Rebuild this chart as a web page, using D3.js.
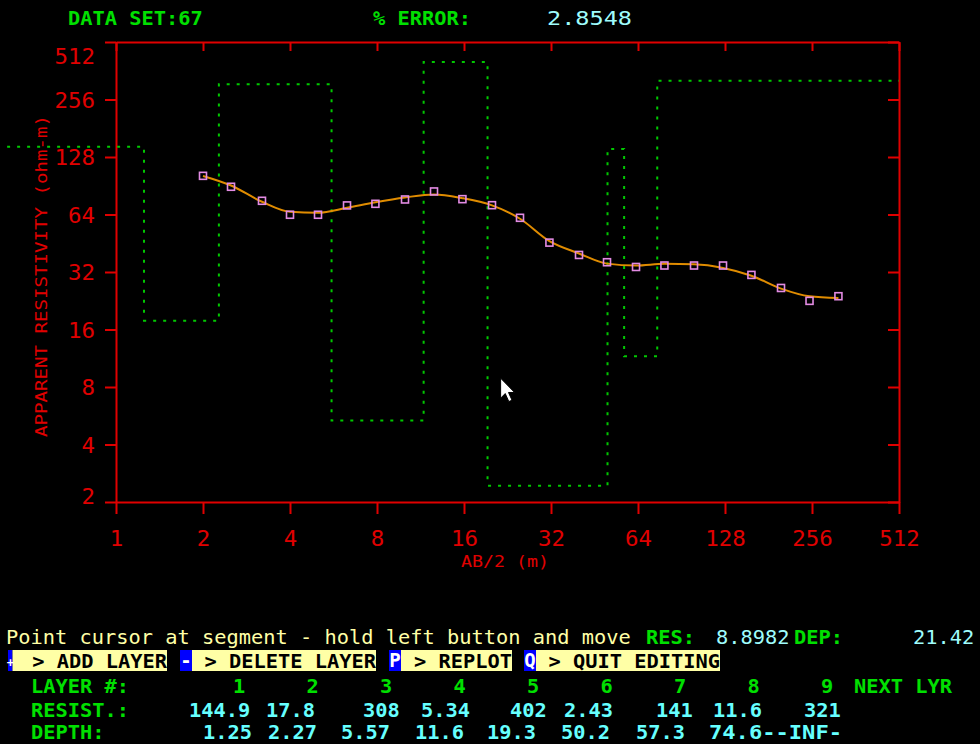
<!DOCTYPE html>
<html><head><meta charset="utf-8">
<script src="https://cdn.jsdelivr.net/npm/d3@7"></script>
<style>html,body{margin:0;padding:0;background:#000;overflow:hidden}svg{display:block}</style>
</head><body>
<svg id="c" width="980" height="744"></svg>
<script>
// ---- Sounding: electrode half-spacing (m) and apparent resistivity (ohm-m)
const abHalf = [2, 2.5, 3.2, 4, 5, 6.3, 7.9, 10, 12.6, 15.8, 20, 25, 31.6, 40, 50, 63, 79, 100, 126, 158, 200, 251, 316];
const observedRho = [102, 89.4, 75.5, 63.8, 63.8, 71.4, 72.8, 76.7, 84.5, 77.0, 71.6, 61.5, 45.6, 39.3, 36.0, 34.0, 34.6, 34.6, 34.6, 30.9, 26.4, 22.6, 23.9];
const calculatedRho = [101.9, 90.8, 74.6, 66.1, 65.3, 69.4, 74.2, 78.6, 81.5, 77.9, 71.4, 60.8, 46.4, 40.0, 35.4, 34.6, 35.3, 35.1, 33.6, 30.6, 26.2, 23.9, 23.4];

// ---- Layered model
const layerNumbers = [1, 2, 3, 4, 5, 6, 7, 8, 9];
const layerRes = [144.9, 17.8, 308, 5.34, 402, 2.43, 141, 11.6, 321];
const layerDepth = [1.25, 2.27, 5.57, 11.6, 19.3, 50.2, 57.3, 74.6];
const resLabels = ["144.9", "17.8", "308", "5.34", "402", "2.43", "141", "11.6", "321"];
const depthLabels = ["1.25", "2.27", "5.57", "11.6", "19.3", "50.2", "57.3", "74.6--INF-"];
const modelStart = 0.42;   // AB/2 where the top layer trace begins
const modelEnd = 512;      // AB/2 where the half-space trace ends

// ---- Axis ticks
const xTicks = [1, 2, 4, 8, 16, 32, 64, 128, 256, 512];
const yTicks = [2, 4, 8, 16, 32, 64, 128, 256, 512];

// ---- Status values
const dataSet = 67;
const pctError = "2.8548";
const cursorRes = 8.8982;
const cursorDep = 21.42;

const RED = "#e00000", GREEN = "#00e000", CYAN = "#66ffff", PALE = "#ffffa6", DOT = "#00c800";
const MONO = "'DejaVu Sans Mono', 'Liberation Mono', monospace";
const CW = 12.25; // character cell width of the status text

const svg = d3.select("#c");
svg.append("rect").attr("width", 980).attr("height", 744).attr("fill", "#000");

const x = d3.scaleLog().base(2).domain([1, 512]).range([116, 899]);
const y = d3.scaleLog().base(2).domain([2, 512]).range([502, 42]);

function styleAxis(g) {
  g.selectAll("path.domain").attr("stroke", RED).attr("stroke-width", 2);
  g.selectAll(".tick line").attr("stroke", RED).attr("stroke-width", 2);
  g.selectAll(".tick text").attr("fill", RED).attr("font-family", MONO).attr("font-size", 21)
    .attr("textLength", d => String(d).length * 13.5).attr("lengthAdjust", "spacingAndGlyphs");
}

// bottom axis with labels
const gb = svg.append("g").attr("transform", "translate(0,502)")
  .call(d3.axisBottom(x).tickValues(xTicks).tickSize(12).tickSizeOuter(0).tickFormat(d3.format("d")));
styleAxis(gb);
gb.selectAll(".tick text").attr("y", 44).attr("dy", 0);

// top border with downward ticks
const gt = svg.append("g").attr("transform", "translate(0,42)")
  .call(d3.axisBottom(x).tickValues(xTicks).tickSize(9).tickSizeOuter(0).tickFormat(""));
styleAxis(gt);

// left axis with labels
const gl = svg.append("g").attr("transform", "translate(116,0)")
  .call(d3.axisLeft(y).tickValues(yTicks).tickSize(11).tickSizeOuter(0).tickFormat(d3.format("d")));
styleAxis(gl);
gl.selectAll(".tick text").attr("x", -21).attr("dy", "0.36em")
  .attr("transform", d => {
    const py = y(d), cy = Math.max(56, Math.min(496, py));
    return `translate(0,${cy - py})`;
  });

// right border with inward ticks
const gr = svg.append("g").attr("transform", "translate(899,0)")
  .call(d3.axisLeft(y).tickValues(yTicks).tickSize(11).tickSizeOuter(0).tickFormat(""));
styleAxis(gr);

// axis titles
svg.append("text").attr("x", 505).attr("y", 567).attr("text-anchor", "middle")
  .attr("fill", RED).attr("font-family", MONO).attr("font-size", 16)
  .attr("textLength", 88).attr("lengthAdjust", "spacingAndGlyphs").text("AB/2 (m)");
svg.append("text").attr("transform", "translate(47,276) rotate(-90)").attr("text-anchor", "middle")
  .attr("fill", RED).attr("font-family", MONO).attr("font-size", 16)
  .attr("textLength", 322).attr("lengthAdjust", "spacingAndGlyphs").text("APPARENT RESISTIVITY (ohm-m)");

// layered model as a dotted step trace
const steps = [[modelStart, layerRes[0]]];
layerDepth.forEach((d, i) => { steps.push([d, layerRes[i]]); steps.push([d, layerRes[i + 1]]); });
steps.push([modelEnd, layerRes[layerRes.length - 1]]);
svg.append("path").attr("d", d3.line().x(d => x(d[0])).y(d => y(d[1]))(steps))
  .attr("fill", "none").attr("stroke", DOT).attr("stroke-width", 2).attr("stroke-dasharray", "3,7");

// calculated curve
const calc = abHalf.map((a, i) => [a, calculatedRho[i]]);
svg.append("path")
  .attr("d", d3.line().x(d => x(d[0])).y(d => y(d[1])).curve(d3.curveMonotoneX)(calc))
  .attr("fill", "none").attr("stroke", "#e08c00").attr("stroke-width", 2);

// observed points
svg.append("g").selectAll("rect").data(abHalf.map((a, i) => [a, observedRho[i]])).join("rect")
  .attr("x", d => x(d[0]) - 3.5).attr("y", d => y(d[1]) - 3.5)
  .attr("width", 7).attr("height", 7)
  .attr("fill", "none").attr("stroke", "#e38be3").attr("stroke-width", 1.6);

// mouse pointer at the edited segment
const cx = x(cursorDep), cy = y(cursorRes);
svg.append("path")
  .attr("d", "M0,0 L0,20 L4.6,15.4 L8.2,23.4 L11.4,22 L7.9,14.3 L14,14.3 Z")
  .attr("transform", `translate(${cx},${cy})`)
  .attr("fill", "#fff").attr("stroke", "#000").attr("stroke-width", 1);

// ---- text helpers
function txt(s, x0, yb, color, opts = {}) {
  const len = opts.len || s.length * CW;
  svg.append("text").attr("x", x0).attr("y", yb)
    .attr("fill", color).attr("font-family", MONO).attr("font-size", opts.size || 20)
    .attr("font-weight", opts.weight || "normal")
    .attr("textLength", len).attr("lengthAdjust", "spacingAndGlyphs")
    .attr("xml:space", "preserve").text(s);
}

// header
txt(`DATA SET:${dataSet}`, 68, 25, GREEN, { size: 19, weight: "bold" });
txt("% ERROR:", 373, 25, GREEN, { size: 19, weight: "bold" });
txt(pctError, 547, 25, "#9ffcfc", { size: 19, len: 85 });

// status line
txt("Point cursor at segment - hold left button and move", 6, 644, PALE);
txt("RES:", 646, 644, GREEN, { weight: "bold" });
txt(String(cursorRes), 716, 644, "#9ffcfc");
txt("DEP:", 794, 644, GREEN, { weight: "bold" });
txt(String(cursorDep), 913, 644, "#9ffcfc");

// key buttons
const keys = [
  { k: "+", kx: 8, kw: 4.5, label: "> ADD LAYER", bx: 12.5, bw: 154.5 },
  { k: "-", kx: 180, kw: 12, label: "> DELETE LAYER", bx: 192, bw: 184 },
  { k: "P", kx: 389, kw: 12, label: "> REPLOT", bx: 401, bw: 111 },
  { k: "Q", kx: 524, kw: 12, label: "> QUIT EDITING", bx: 536, bw: 184 }
];
keys.forEach(b => {
  svg.append("rect").attr("x", b.kx).attr("y", 650).attr("width", b.kw).attr("height", 21).attr("fill", "#0000ff");
  svg.append("rect").attr("x", b.bx).attr("y", 650).attr("width", b.bw).attr("height", 21).attr("fill", "#ffffa6");
  svg.append("text").attr("x", b.kx + b.kw / 2).attr("y", 667).attr("text-anchor", "middle")
    .attr("fill", "#fff").attr("font-family", MONO).attr("font-weight", "bold")
    .attr("font-size", b.kw < 8 ? 12 : 19).text(b.k);
  txt(b.label, b.bx + b.bw - b.label.length * CW, 668, "#000", { weight: "bold" });
});

// layer table
txt("LAYER #:", 31, 693, GREEN, { weight: "bold" });
layerNumbers.forEach((n, i) => txt(String(n), 233 + i * 6 * CW, 693, GREEN, { weight: "bold" }));
txt("NEXT LYR", 854, 693, GREEN, { weight: "bold" });

txt("RESIST.:", 31, 717, GREEN, { weight: "bold" });
const resX = [189, 266, 363, 421, 510, 564, 656, 713, 804];
resLabels.forEach((s, i) => txt(s, resX[i], 717, CYAN, { weight: "bold" }));

txt("DEPTH:", 31, 739, GREEN, { weight: "bold", size: 19 });
const depX = [203, 268, 341, 415, 487, 561, 636, 709];
depthLabels.forEach((s, i) => txt(s, depX[i], 739, CYAN, { weight: "bold", size: 19, len: s.length > 6 ? 133 : s.length * CW }));
</script>
</body></html>
